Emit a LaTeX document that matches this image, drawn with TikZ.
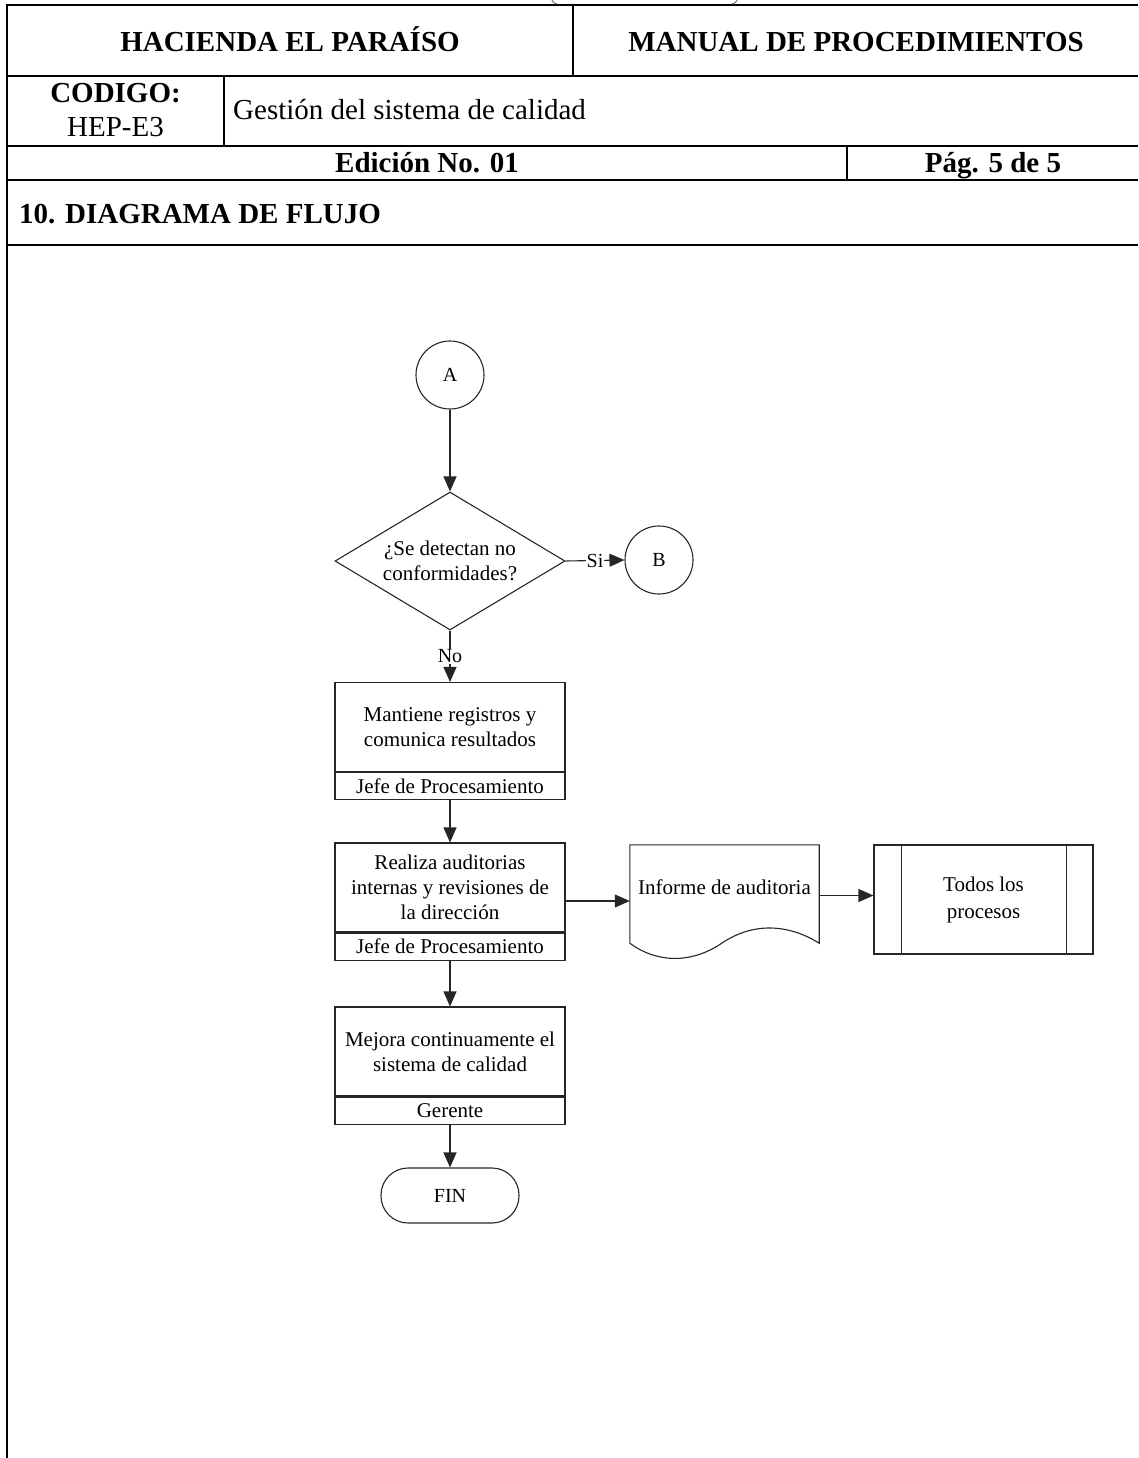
\documentclass[tikz,border=0pt]{standalone}
\usepackage{fontspec}
\setmainfont{Liberation Serif}
\usetikzlibrary{arrows.meta,shapes.geometric,calc}

\begin{document}
\begin{tikzpicture}[x=1pt,y=-1pt,
  grid/.style={line width=2pt,black},
  hdr/.style={font=\fontsize{29}{34}\selectfont\bfseries, inner sep=0pt},
  hdrn/.style={font=\fontsize{29}{34}\selectfont, inner sep=0pt},
  flowline/.style={line width=1.1pt, draw=black!85},
  flow/.style={flowline, font=\fontsize{21}{25}\selectfont, align=center, inner sep=2pt},
  task/.style={flow, rectangle, minimum width=230pt, minimum height=89pt},
  role/.style={flow, rectangle, minimum width=230pt, minimum height=27pt},
  conn/.style={flow, circle, minimum size=68pt, inner sep=0pt, font=\fontsize{20}{24}\selectfont},
  link/.style={flowline, -{Triangle[length=15pt,width=13pt]}},
  tag/.style={fill=white, inner sep=1pt, font=\fontsize{20}{24}\selectfont}
]
\useasboundingbox (0,0) rectangle (1138,1458);

% ---- page header table ----
\draw[grid] (1138,5) -- (7,5) -- (7,1458);
\draw[grid] (7,76) -- (1138,76);
\draw[grid] (7,146) -- (1138,146);
\draw[grid] (7,180) -- (1138,180);
\draw[grid] (7,245) -- (1138,245);
\draw[grid] (573,5) -- (573,76);
\draw[grid] (224,76) -- (224,146);
\draw[grid] (847,146) -- (847,180);

% bottoms of the bracketed line above the table
\draw[black!55, line width=1pt] (552,0) .. controls (553,2.5) .. (557,4);
\draw[black!55, line width=1pt] (737,0) .. controls (736,2.5) .. (732,4);

\node[hdr, anchor=base] (empresa) at (290,51.5) {HACIENDA EL PARAÍSO};
\node[hdr, anchor=base] (manual) at (856,51.5) {MANUAL DE PROCEDIMIENTOS};
\node[hdr, anchor=base] (codigo) at (115.5,103) {CODIGO:};
\node[hdrn, anchor=base] (clave) at (115.5,137) {HEP-E3};
\node[hdrn, anchor=base west] (proceso) at (233,120) {Gestión del sistema de calidad};
\node[hdr, anchor=base] (edicion) at (427,173) {Edición No. 01};
\node[hdr, anchor=base] (pagina) at (993,173) {Pág. 5 de 5};
\node[hdr, anchor=base west] (seccion) at (19,223) {10. DIAGRAMA DE FLUJO};

% ---- flow chart ----
\node[conn] (A) at (450,375) {A};
\node[flow, diamond, aspect=1.67, minimum width=230pt, minimum height=138pt, inner sep=0pt]
  (dec) at (450,561) {¿Se detectan no\\conformidades?};
\node[conn] (B) at (659,560) {B};

\node[task] (b1top) at (450,727) {Mantiene registros y\\comunica resultados};
\node[role, anchor=north] (b1role) at (b1top.south) {Jefe de Procesamiento};

\node[task] (b2top) at (450,887.5) {Realiza auditorias\\internas y revisiones de\\la dirección};
\node[role, anchor=north] (b2role) at (b2top.south) {Jefe de Procesamiento};

\node[task] (b3top) at (450,1051.5) {Mejora continuamente el\\sistema de calidad};
\node[role, anchor=north] (b3role) at (b3top.south) {Gerente};

\node[flow, rectangle, rounded corners=27pt, minimum width=138pt, minimum height=55pt,
  font=\fontsize{20}{24}\selectfont] (fin) at (450,1195.5) {FIN};

% document symbol
\node[minimum width=189pt, minimum height=98pt, inner sep=0pt] (doc) at (724.5,894) {};
\draw[flowline] (doc.north west) -- (doc.north east) -- (doc.south east)
  .. controls (790,925) and (755,921) .. (722,943)
  .. controls (690,965) and (655,962) .. (doc.south west) -- cycle;
\node[font=\fontsize{21}{25}\selectfont, inner sep=0pt] (doctext) at (724.5,887) {Informe de auditoria};

% predefined process
\node[flow, rectangle, minimum width=219pt, minimum height=109pt,
  font=\fontsize{21}{27}\selectfont] (pp) at (983.5,899.5) {Todos los\\procesos};
\draw[flowline] ($(pp.north west)+(28,0)$) -- ($(pp.south west)+(28,0)$);
\draw[flowline] ($(pp.north east)+(-27,0)$) -- ($(pp.south east)+(-27,0)$);

% connectors
\draw[link] (A.south) -- (dec.north);
\draw[link] (dec.east) -- node[tag] {Si} (B.west);
\draw[link] (dec.south) -- node[tag, pos=0.5] {No} (b1top.north);
\draw[link] (b1role.south) -- (b2top.north);
\draw[link] (b2role.south) -- (b3top.north);
\draw[link] (b3role.south) -- (fin.north);
\coordinate (docin) at ($(doc.west)+(0,7)$);
\draw[link] (b2top.east |- docin) -- (docin);
\coordinate (docout) at ($(doc.east)+(0,1.5)$);
\draw[link] (docout) -- (pp.west |- docout);
\end{tikzpicture}
\end{document}
